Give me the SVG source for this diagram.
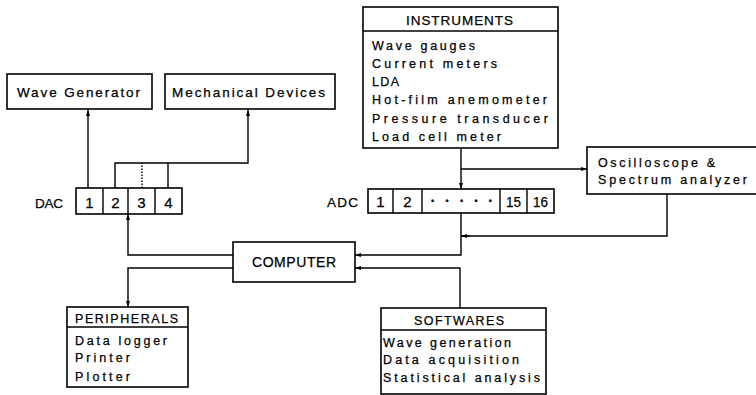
<svg xmlns="http://www.w3.org/2000/svg" width="756" height="395" viewBox="0 0 756 395">
<defs>
<style>
.box{fill:#fff;stroke:#000;stroke-width:1.6}
.ln{fill:none;stroke:#000;stroke-width:1.4}
.dot{fill:none;stroke:#000;stroke-width:1.4;stroke-dasharray:1.5 1.5}
text{font-family:"Liberation Sans","DejaVu Sans",sans-serif;font-size:12.5px;fill:#000;stroke:#000;stroke-width:0.25}
.h{font-size:13.5px}
.d{font-size:15px}
.c{text-anchor:middle}
</style>
<marker id="ah" viewBox="0 0 6 4" refX="6" refY="2" markerWidth="6" markerHeight="4" markerUnits="userSpaceOnUse" orient="auto">
<path d="M0,0 L6,2 L0,4 Z" fill="#000"/>
</marker>
</defs>
<rect width="756" height="395" fill="#fff"/>

<g id="connectors">
<path class="ln" d="M88,188 V110" marker-end="url(#ah)"/>
<path class="ln" d="M115,188 V163 H248 V110" marker-end="url(#ah)"/>
<path class="dot" d="M142,188 V163"/>
<path class="ln" d="M168,188 V163"/>
<path class="ln" d="M233,255 H128 V214" marker-end="url(#ah)"/>
<path class="ln" d="M233,268 H128 V307" marker-end="url(#ah)"/>
<path class="ln" d="M461,149 V189" marker-end="url(#ah)"/>
<path class="ln" d="M461,169 H587" marker-end="url(#ah)"/>
<path class="ln" d="M667,194 V236 H461"/>
<path class="ln" d="M470,236 H461" marker-end="url(#ah)"/>
<path class="ln" d="M461,213 V255 H355" marker-end="url(#ah)"/>
<path class="ln" d="M460,308 V268 H355" marker-end="url(#ah)"/>
</g>

<g id="wave-generator">
<rect class="box" x="7" y="74" width="145" height="35"/>
<text class="h" x="17" y="97" textLength="123" lengthAdjust="spacing">Wave Generator</text>
</g>

<g id="mechanical-devices">
<rect class="box" x="165" y="74" width="170" height="35"/>
<text class="h" x="172" y="97" textLength="153" lengthAdjust="spacing">Mechanical Devices</text>
</g>

<g id="dac">
<text class="h" x="35" y="207.5" textLength="28" lengthAdjust="spacing">DAC</text>
<rect class="box" x="76" y="188" width="106" height="26"/>
<path class="ln" d="M103,188 V214 M128,188 V214 M155,188 V214"/>
<text class="c d" x="89.5" y="208">1</text>
<text class="c d" x="115.5" y="208">2</text>
<text class="c d" x="141.5" y="208">3</text>
<text class="c d" x="168.5" y="208">4</text>
</g>

<g id="instruments">
<rect class="box" x="363" y="7" width="195" height="141"/>
<path class="ln" d="M363,31 H558"/>
<text class="h" x="406" y="25" textLength="107" lengthAdjust="spacing">INSTRUMENTS</text>
<text x="372" y="50" textLength="103" lengthAdjust="spacing">Wave gauges</text>
<text x="372" y="68" textLength="125" lengthAdjust="spacing">Current meters</text>
<text x="372" y="86" textLength="27" lengthAdjust="spacing">LDA</text>
<text x="372" y="104" textLength="175" lengthAdjust="spacing">Hot-film anemometer</text>
<text x="372" y="122.5" textLength="176" lengthAdjust="spacing">Pressure transducer</text>
<text x="372" y="141" textLength="129" lengthAdjust="spacing">Load cell meter</text>
</g>

<g id="oscilloscope">
<rect class="box" x="587" y="147" width="185" height="47"/>
<text x="598" y="167" textLength="117" lengthAdjust="spacing">Oscilloscope &amp;</text>
<text x="598" y="184" textLength="149" lengthAdjust="spacing">Spectrum analyzer</text>
</g>

<g id="adc">
<text class="h" x="327" y="207" textLength="31" lengthAdjust="spacing">ADC</text>
<rect class="box" x="368" y="189" width="186" height="24"/>
<path class="ln" d="M393,189 V213 M422,189 V213 M500,189 V213 M527,189 V213"/>
<text class="c d" x="380.5" y="207">1</text>
<text class="c d" x="407.5" y="207">2</text>
<text x="431" y="204" textLength="61" lengthAdjust="spacing" style="font-size:9px">•••••</text>
<text class="c d" x="513.5" y="207" textLength="15" lengthAdjust="spacingAndGlyphs">15</text>
<text class="c d" x="540.5" y="207" textLength="15" lengthAdjust="spacingAndGlyphs">16</text>
</g>

<g id="computer">
<rect class="box" x="233" y="242" width="122" height="40"/>
<text class="d" x="252" y="267" textLength="84" lengthAdjust="spacing" style="font-size:14px">COMPUTER</text>
</g>

<g id="peripherals">
<rect class="box" x="67" y="307" width="121" height="80"/>
<path class="ln" d="M67,327 H188"/>
<text x="75" y="323" textLength="103" lengthAdjust="spacing">PERIPHERALS</text>
<text x="75" y="345" textLength="92" lengthAdjust="spacing">Data logger</text>
<text x="75" y="362" textLength="55" lengthAdjust="spacing">Printer</text>
<text x="75" y="381" textLength="55" lengthAdjust="spacing">Plotter</text>
</g>

<g id="softwares">
<rect class="box" x="381" y="308" width="165" height="86"/>
<path class="ln" d="M381,330 H546"/>
<text x="414" y="325" textLength="90" lengthAdjust="spacing">SOFTWARES</text>
<text x="383" y="347" textLength="128" lengthAdjust="spacing">Wave generation</text>
<text x="383" y="364" textLength="136" lengthAdjust="spacing">Data acquisition</text>
<text x="383" y="382" textLength="157" lengthAdjust="spacing">Statistical analysis</text>
</g>
</svg>
